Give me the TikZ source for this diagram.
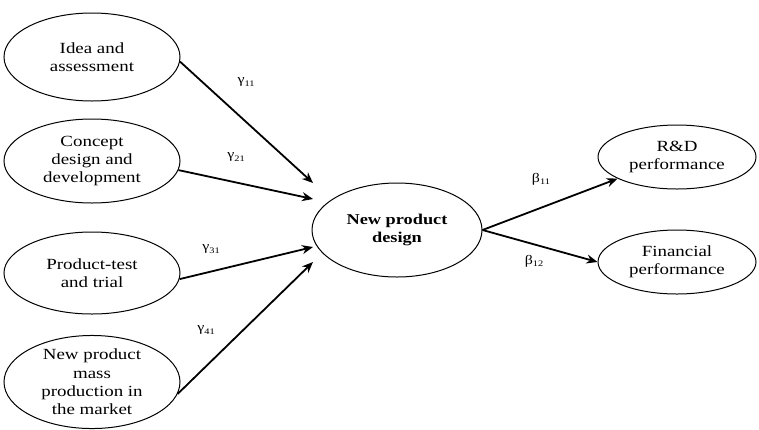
\documentclass[tikz,border=0pt]{standalone}
\usepackage{fontspec}
\setmainfont{Liberation Serif}[FakeStretch=1.22]
\usetikzlibrary{shapes.geometric,arrows.meta}
\newcommand{\mysub}[1]{\raisebox{-2.5pt}{\fontsize{8.5}{9}\selectfont #1}}
\begin{document}
\begin{tikzpicture}[x=1pt,y=-1pt,
  ell/.style={draw,ellipse,line width=1pt,inner sep=0pt,align=center,font=\fontsize{15.5}{18.3}\selectfont},
  arr/.style={line width=1.8pt,-{Stealth[length=11pt,width=9pt]}},
  lab/.style={font=\fontsize{13}{14}\selectfont,inner sep=1pt}]
\useasboundingbox (0,0) rectangle (759,429);
\node[ell,minimum width=176pt,minimum height=88pt] (e1) at (92,57) {Idea and\\assessment};
\node[ell,minimum width=176pt,minimum height=84pt] (e2) at (92,161) {Concept\\design and\\development};
\node[ell,minimum width=176pt,minimum height=82pt] (e3) at (92,273) {Product-test\\and trial};
\node[ell,minimum width=176pt,minimum height=92pt] (e4) at (92,382) {New product\\mass\\production in\\the market};
\node[ell,minimum width=170pt,minimum height=94pt,font=\fontsize{15}{18.3}\selectfont\bfseries] (c) at (397,230) {New product\\design};
\node[ell,minimum width=158pt,minimum height=64pt] (r) at (677,157) {R\&D\\performance};
\node[ell,minimum width=158pt,minimum height=64pt] (f) at (677,262) {Financial\\performance};
\coordinate (t1) at (313,183);
\coordinate (t2) at (313,199);
\coordinate (t3) at (313,247);
\coordinate (t4) at (313,262);
\draw[arr] (e1.-3) -- (t1);
\draw[arr] (e2.-6) -- (t2);
\draw[arr] (e3.-4) -- (t3);
\draw[arr] (e4.-8) -- (t4);
\draw[arr] (c.east) -- (r.-160);
\draw[arr] (c.east) -- (f.west);
\node[lab] (g1) at (246,82) {γ\mysub{11}};
\node[lab] (g2) at (236,157) {γ\mysub{21}};
\node[lab] (g3) at (211,249) {γ\mysub{31}};
\node[lab] (g4) at (206,330) {γ\mysub{41}};
\node[lab] (b1) at (541,179) {β\mysub{11}};
\node[lab] (b2) at (534,261) {β\mysub{12}};
\end{tikzpicture}
\end{document}
